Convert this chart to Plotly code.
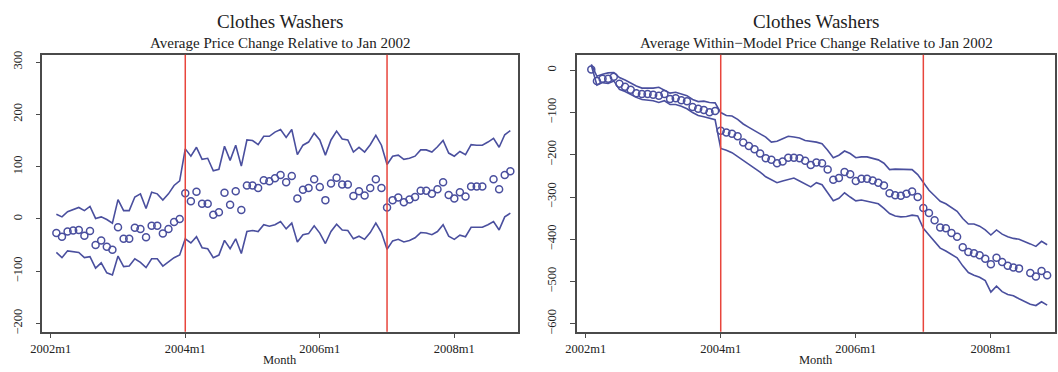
import plotly.graph_objects as go

# Month index (0 = 2002m1)
month_idx = list(range(1, 83))
tick_vals = [0, 24, 48, 72]
tick_text = ["2002m1", "2004m1", "2006m1", "2008m1"]
break_months = [24, 60]

# Left panel: Average Price Change Relative to Jan 2002
left_mean = [-27, -34, -24, -22, -21, -32, -23, -50, -41, -53, -59, -16, -38, -38, -17, -19, -35, -13, -13, -28, -19, -6, 0,
             49, 34, 52, 29, 29, 8, 13, 50, 27, 53, 17, 64, 64, 59, 74, 72, 78, 84, 70, 82, 39, 56, 59, 76, 61, 36, 68, 79, 66, 66,
             44, 53, 45, 59, 76, 59, 22,
             36, 41, 32, 37, 42, 54, 54, 48, 57, 70, 46, 39, 51, 43, 62, 62, 62, None, 76, 57, 84, 91]
left_upper = [9, 4, 14, 18, 22, 16, 24, 1, 4, -1, -8, 37, 16, 16, 42, 48, 20, 51, 48, 36, 48, 64, 73,
              134, 120, 137, 114, 116, 92, 95, 139, 112, 141, 101, 151, 150, 142, 158, 158, 166, 171, 156, 171, 123, 141, 147, 164,
              151, 122, 151, 168, 153, 151, 128, 137, 128, 142, 160, 141, 104,
              120, 122, 114, 116, 120, 132, 132, 128, 138, 150, 126, 120, 129, 123, 142, 141, 141, 147, 154, 137, 161, 169]
left_lower = [-64, -74, -61, -63, -64, -74, -72, -94, -84, -103, -107, -71, -91, -90, -76, -83, -93, -76, -76, -90, -82, -74, -69,
              -38, -46, -34, -55, -57, -74, -69, -41, -57, -38, -66, -24, -22, -24, -11, -14, -11, -5, -19, -8, -44, -30, -28, -13,
              -27, -47, -24, -10, -21, -22, -38, -33, -39, -26, -8, -26, -58,
              -42, -39, -44, -41, -36, -26, -27, -30, -24, -11, -33, -39, -31, -34, -16, -16, -16, -11, -5, -21, 4, 11]

# Right panel: Average Within-Model Price Change Relative to Jan 2002
right_mean = [2, -25, -20, -20, -15, -32, -39, -46, -54, -56, -56, -58, -60, -56, -68, -66, -71, -73, -87, -91, -94, -99, -96,
              -143, -147, -150, -156, -171, -179, -187, -197, -208, -212, -220, -216, -207, -207, -208, -214, -224, -218, -220,
              -235, -259, -255, -241, -246, -262, -257, -257, -261, -266, -273, -291, -296, -297, -292, -287, -300,
              -326, -338, -355, -372, -374, -385, -394, -419, -430, -433, -438, -446, -459, -444, -454, -463, -467, -469, None,
              -480, -488, -475, -485]
right_upper = [14, -14, -9, -6, -5, -17, -23, -31, -37, -42, -42, -42, -40, -48, -54, -52, -56, -60, -69, -74, -73, -76, -77,
               -100, -107, -108, -116, -127, -135, -143, -151, -158, -170, -168, -162, -156, -158, -160, -166, -168, -170, -174,
               -189, -207, -201, -191, -197, -207, -205, -205, -208, -212, -220, -235, -234, -234, -235, -235, -247,
               -266, -284, -297, -310, -316, -326, -334, -351, -364, -364, -369, -378, -390, -378, -388, -394, -398, -400, -405,
               -411, -417, -405, -413]
right_lower = [12, -35, -29, -31, -25, -45, -50, -58, -64, -69, -70, -72, -76, -72, -81, -81, -85, -91, -100, -107, -110, -114, -117,
               -185, -189, -195, -204, -213, -222, -231, -241, -252, -260, -266, -262, -259, -255, -262, -269, -276, -266, -271,
               -290, -309, -303, -290, -300, -309, -307, -310, -313, -316, -327, -339, -345, -347, -346, -343, -345,
               -374, -390, -405, -421, -428, -436, -444, -463, -479, -485, -490, -498, -525, -511, -524, -531, -534, -541, -547,
               -554, -557, -548, -556]

NAVY = "#4a4f9e"
RED = "#e8453c"
FRAME = "#4a4a4a"
FONT = "Liberation Serif"

fig = go.Figure()

def add_panel(mean, upper, lower, xa, ya):
    for series in (upper, lower):
        fig.add_trace(go.Scatter(x=month_idx, y=series, mode="lines",
                                 line=dict(color=NAVY, width=1.6),
                                 xaxis=xa, yaxis=ya, showlegend=False, hoverinfo="skip"))
    fig.add_trace(go.Scatter(x=month_idx, y=mean, mode="markers",
                             marker=dict(symbol="circle-open", size=7, color=NAVY, line=dict(width=1.5, color=NAVY)),
                             xaxis=xa, yaxis=ya, showlegend=False))

add_panel(left_mean, left_upper, left_lower, "x", "y")
add_panel(right_mean, right_upper, right_lower, "x2", "y2")

for xr, yr in (("x", "y domain"), ("x2", "y2 domain")):
    for m in break_months:
        fig.add_shape(type="line", xref=xr, yref=yr, x0=m, x1=m, y0=0, y1=1,
                      line=dict(color=RED, width=1.5), layer="above")

common_x = dict(range=[-1.5, 83.4], tickmode="array", tickvals=tick_vals, ticktext=tick_text,
                showline=True, mirror=True, linecolor=FRAME, linewidth=1.5, ticks="outside", ticklen=5,
                tickcolor=FRAME, tickwidth=1.2, showgrid=False, zeroline=False,
                tickfont=dict(family=FONT, size=12.5, color="#222"))
common_y = dict(showline=True, mirror=True, linecolor=FRAME, linewidth=1.5, ticks="outside", ticklen=5,
                tickcolor=FRAME, tickwidth=1.2, showgrid=False, zeroline=False, tickangle=-90,
                ticklabelstandoff=9,
                tickfont=dict(family=FONT, size=12.5, color="#222"))

y_dom = [(372 - 334) / 372, (372 - 51.7) / 372]
fig.update_layout(
    width=1058, height=372,
    margin=dict(l=0, r=0, t=0, b=0),
    paper_bgcolor="white", plot_bgcolor="white",
    xaxis=dict(domain=[30.7 / 1058, 512 / 1058], anchor="y", **common_x),
    yaxis=dict(domain=y_dom, anchor="x", range=[-215.6, 314],
               tickvals=[-200, -100, 0, 100, 200, 300], **common_y),
    xaxis2=dict(domain=[571.7 / 1058, 1055 / 1058], anchor="y2", **common_x),
    yaxis2=dict(domain=y_dom, anchor="x2", range=[-619, 37],
                tickvals=[-600, -500, -400, -300, -200, -100, 0], **common_y),
)

def ann(text, xr, y, size):
    fig.add_annotation(text=text, xref=xr, x=0.5, yref="paper", y=y, showarrow=False,
                       xanchor="center", yanchor="middle", font=dict(family=FONT, size=size, color="#222"))

ann("Clothes Washers", "x domain", (372 - 18) / 372, 19)
ann("Average Price Change Relative to Jan 2002", "x domain", (372 - 40) / 372, 15)
ann("Month", "x domain", (372 - 363) / 372, 12.5)
ann("Clothes Washers", "x2 domain", (372 - 18) / 372, 19)
ann("Average Within\u2212Model Price Change Relative to Jan 2002", "x2 domain", (372 - 40) / 372, 15)
ann("Month", "x2 domain", (372 - 363) / 372, 12.5)

fig.write_html("out.html")
